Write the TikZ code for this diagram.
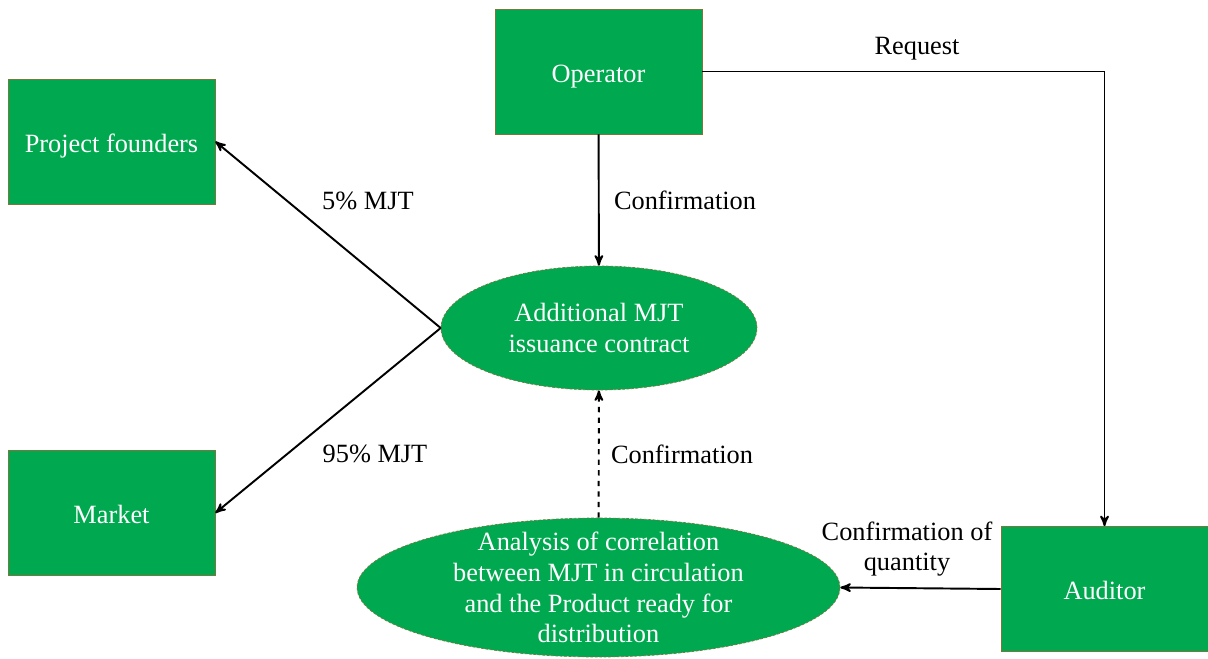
\documentclass[tikz,border=0pt]{standalone}
\usepackage{fontspec}
\setmainfont{Liberation Serif}
\usetikzlibrary{arrows, positioning, shapes.geometric}
\definecolor{boxgreen}{RGB}{0,169,79}
\definecolor{boxline}{RGB}{120,120,60}
\tikzset{
    %Define standard arrow tip
    >=stealth',
}
\begin{document}
\begin{tikzpicture}[
    x=0.02cm, y=-0.02cm,
    party/.style = {draw=boxline, fill=boxgreen, text=white, align=center,
                    font=\fontsize{15}{17.5}\selectfont,
                    text height=12pt, text depth=0pt,
                    minimum width=4.14cm, minimum height=2.5cm, inner sep=0},
    task/.style = {ellipse, draw=boxline, dash pattern=on 1.5pt off 1pt,
                   fill=boxgreen, text=white, align=center,
                   font=\fontsize{15}{17.5}\selectfont, inner xsep=0},
    lbl/.style = {font=\fontsize{15}{17.5}\selectfont, align=center},
    flow/.style = {->, line width=1.1pt},
  ]
  \useasboundingbox (0,0) rectangle (1208,659);
  \node[party] (founders) at (111.5,141.5) {Project founders};
  \node[party] (market) at (111.5,513) {Market};
  \node[party] (operator) at (598.5,71.5) {Operator};
  \node[party] (auditor) at (1104.5,589) {Auditor};
  \node[task, minimum width=6.32cm, minimum height=2.48cm] (issue) at (599,328)
       {Additional MJT\\issuance contract};
  \node[task, minimum width=9.66cm, minimum height=2.78cm, inner ysep=-0.3cm]
       (analysis) at (598.5,587.5)
       {Analysis of correlation\\between MJT in circulation\\and the Product ready for\\distribution};
  \draw[flow] (operator) -- (issue);
  \draw[flow] (operator.east) -| (auditor.north);
  \draw[flow] (auditor.west) -- (analysis.east);
  \draw[flow, dashed] (analysis) -- (issue);
  \draw[flow] (issue.west) -- (founders.east);
  \draw[flow] (issue.west) -- (market.east);
  \node[lbl] at (685,200) {Confirmation};
  \node[lbl] at (917,49) {Request};
  \node[lbl] at (907,549) {Confirmation of\\quantity};
  \node[lbl] at (682,454) {Confirmation};
  \node[lbl] at (368,201) {5\% MJT};
  \node[lbl] at (375,454) {95\% MJT};
\end{tikzpicture}
\end{document}
